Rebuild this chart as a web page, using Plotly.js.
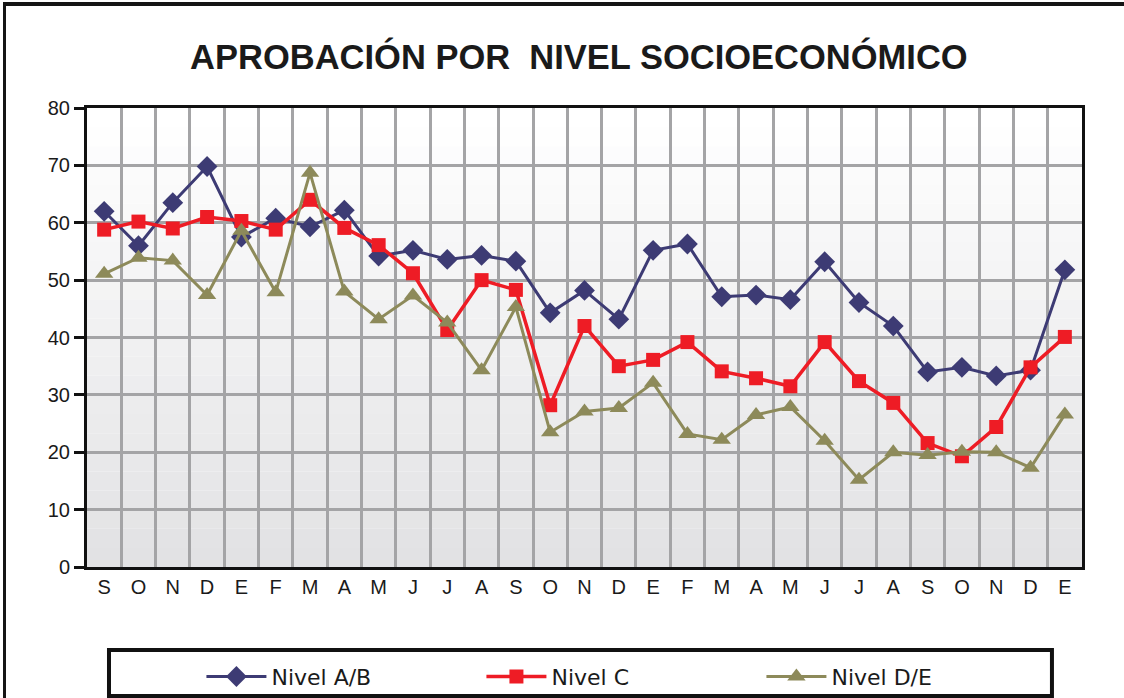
<!DOCTYPE html>
<html>
<head>
<meta charset="utf-8">
<script src="https://cdn.plot.ly/plotly-3.0.1.min.js"></script>
<style>
  html, body { margin: 0; padding: 0; background: #ffffff; overflow: hidden; }
  #wrap { position: relative; width: 1124px; height: 698px; }
  #chart { position: absolute; left: 0; top: 0; width: 1124px; height: 698px; }
  #frame { position: absolute; left: 3px; top: 2px; width: 1200px; height: 800px;
           border-top: 4px solid #151515; border-left: 3px solid #151515; pointer-events: none; }
</style>
</head>
<body>
<div id="wrap">
  <div id="chart"></div>
  <div id="frame"></div>
</div>
<script>
// Month initials (Sep .. Jan, 29 surveys)
const months = ["S","O","N","D","E","F","M","A","M","J","J","A","S","O","N","D","E","F","M","A","M","J","J","A","S","O","N","D","E"];

const nivelAB = [62.0, 56.0, 63.5, 69.8, 57.5, 60.8, 59.3, 62.2, 54.2, 55.2, 53.6, 54.3, 53.3, 44.3, 48.2, 43.2, 55.2, 56.3, 47.1, 47.4, 46.6, 53.2, 46.1, 42.0, 34.0, 34.8, 33.3, 34.3, 51.8];
const nivelC  = [58.8, 60.2, 59.0, 61.0, 60.3, 58.8, 64.0, 59.1, 56.1, 51.2, 41.3, 50.0, 48.3, 28.2, 42.0, 35.0, 36.1, 39.2, 34.1, 32.9, 31.5, 39.2, 32.4, 28.6, 21.6, 19.3, 24.4, 34.8, 40.1];
const nivelDE = [51.1, 53.9, 53.4, 47.4, 58.6, 47.9, 68.7, 48.0, 43.2, 47.3, 42.6, 34.3, 45.3, 23.5, 27.1, 27.7, 32.1, 23.2, 22.2, 26.5, 27.9, 22.0, 15.2, 20.0, 19.5, 20.1, 20.0, 17.3, 26.6];

const seriesNames = ["Nivel A/B", "Nivel C", "Nivel D/E"];
const titleText = "APROBACIÓN POR\u00a0 NIVEL SOCIOECONÓMICO";

const xIdx = months.map((m, i) => i);

const traces = [
  { x: xIdx, y: nivelAB, name: seriesNames[0], type: "scatter", mode: "lines+markers",
    line: { color: "#3d3b74", width: 3 },
    marker: { symbol: "diamond", size: 16, color: "#3d3b74", line: { width: 0 } } },
  { x: xIdx, y: nivelC, name: seriesNames[1], type: "scatter", mode: "lines+markers",
    line: { color: "#ee1c25", width: 3.5 },
    marker: { symbol: "square", size: 14, color: "#ee1c25", line: { width: 0 } } },
  { x: xIdx, y: nivelDE, name: seriesNames[2], type: "scatter", mode: "lines+markers",
    line: { color: "#8d8a5a", width: 3 },
    marker: { symbol: "triangle-up", size: 16, color: "#8d8a5a", line: { width: 0 } } }
];

// background gradient bands (style only)
const shapes = [];
const nb = 24;
for (let i = 0; i < nb; i++) {
  const t = i / (nb - 1);
  const c = Math.round(255 - t * 29);
  const c2 = Math.round(255 - t * 27);
  shapes.push({ type: "rect", xref: "paper", yref: "paper", layer: "below",
    x0: 0, x1: 1, y0: 1 - (i + 1) / nb, y1: 1 - i / nb,
    fillcolor: `rgb(${c},${c},${c2})`, line: { width: 0 } });
}
// legend box
shapes.push({ type: "rect", xref: "paper", yref: "paper", layer: "above",
  x0: 0.0221, x1: 0.9698, y0: -0.281, y1: -0.181,
  fillcolor: "rgba(0,0,0,0)", line: { color: "#111111", width: 4 } });

const layout = {
  width: 1124, height: 698,
  margin: { l: 87, r: 42, t: 108, b: 131, autoexpand: false },
  paper_bgcolor: "rgba(0,0,0,0)",
  plot_bgcolor: "#ffffff",
  showlegend: true,
  title: { text: titleText, x: 0.515, xanchor: "center", y: 0.918, yanchor: "middle",
    font: { family: "Liberation Sans, Arial, sans-serif", size: 34.5, color: "#1a1a1a", weight: "bold" } },
  xaxis: {
    range: [-0.5, 28.5], tickmode: "array", tickvals: xIdx, ticktext: months,
    showgrid: false, zeroline: false, ticks: "",
    showline: true, linecolor: "#111111", linewidth: 3, mirror: true,
    tickfont: { family: "Liberation Sans, Arial, sans-serif", size: 20, color: "#1a1a1a" },
    minor: { tickmode: "linear", tick0: 0.5, dtick: 1, showgrid: true, gridcolor: "#a4a4a6", gridwidth: 3, ticks: "" }
  },
  yaxis: {
    range: [0, 80], dtick: 10, tick0: 0,
    showgrid: true, gridcolor: "#a4a4a6", gridwidth: 3, zeroline: false,
    ticks: "outside", ticklen: 10, tickwidth: 3, tickcolor: "#111111",
    showline: true, linecolor: "#111111", linewidth: 3, mirror: true,
    tickfont: { family: "Liberation Sans, Arial, sans-serif", size: 20, color: "#1a1a1a" }
  },
  legend: {
    orientation: "h", x: 0.115, xanchor: "left", y: -0.239, yanchor: "middle",
    itemwidth: 60, entrywidth: 205, entrywidthmode: "pixels",
    bgcolor: "rgba(0,0,0,0)", borderwidth: 0,
    font: { family: "DejaVu Sans, Verdana, sans-serif", size: 22, color: "#1a1a1a" }
  },
  shapes: shapes
};

Plotly.newPlot("chart", traces, layout, { displayModeBar: false, staticPlot: true });
</script>
</body>
</html>
